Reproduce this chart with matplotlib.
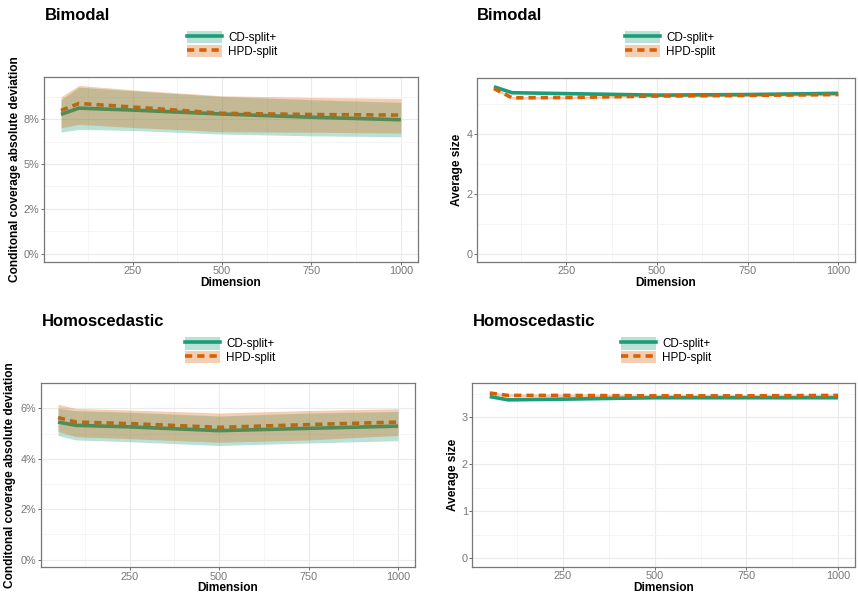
import matplotlib
matplotlib.use("Agg")
import matplotlib.pyplot as plt
from matplotlib.patches import Patch
from matplotlib.lines import Line2D
from matplotlib.legend_handler import HandlerTuple

plt.rcParams['font.family'] = ['Liberation Sans', 'DejaVu Sans']

dims = [50, 100, 250, 500, 750, 1000]
methods = ["CD-split+", "HPD-split"]
colors = {"CD-split+": "#1B9E77", "HPD-split": "#D95F02"}

# conditional coverage absolute deviation, in percent
bim_cov_cd = [7.78, 8.13, 8.02, 7.80, 7.62, 7.48]
bim_cov_cd_lo = [6.79, 6.94, 6.88, 6.68, 6.58, 6.53]
bim_cov_cd_hi = [8.60, 9.30, 9.10, 8.78, 8.60, 8.45]
bim_cov_hpd = [8.00, 8.39, 8.19, 7.84, 7.77, 7.74]
bim_cov_hpd_lo = [7.03, 7.22, 7.05, 6.81, 6.78, 6.74]
bim_cov_hpd_hi = [8.76, 9.40, 9.15, 8.82, 8.73, 8.67]

hom_cov_cd = [5.46, 5.33, 5.27, 5.12, 5.21, 5.30]
hom_cov_cd_lo = [4.93, 4.75, 4.68, 4.53, 4.63, 4.72]
hom_cov_cd_hi = [6.01, 5.91, 5.85, 5.70, 5.82, 5.88]
hom_cov_hpd = [5.64, 5.46, 5.40, 5.25, 5.36, 5.46]
hom_cov_hpd_lo = [5.09, 4.88, 4.80, 4.66, 4.75, 4.93]
hom_cov_hpd_hi = [6.17, 6.00, 5.94, 5.82, 5.92, 5.99]

# average size
bim_size_cd = [5.57, 5.37, 5.34, 5.29, 5.31, 5.35]
bim_size_cd_lo = [5.55, 5.35, 5.32, 5.27, 5.29, 5.33]
bim_size_cd_hi = [5.59, 5.39, 5.36, 5.31, 5.33, 5.37]
bim_size_hpd = [5.51, 5.20, 5.21, 5.26, 5.28, 5.31]
bim_size_hpd_lo = [5.47, 5.16, 5.17, 5.22, 5.24, 5.27]
bim_size_hpd_hi = [5.55, 5.24, 5.25, 5.30, 5.32, 5.35]

hom_size_cd = [3.445, 3.375, 3.39, 3.42, 3.42, 3.42]
hom_size_cd_lo = [3.43, 3.36, 3.375, 3.405, 3.405, 3.405]
hom_size_cd_hi = [3.46, 3.39, 3.405, 3.435, 3.435, 3.435]
hom_size_hpd = [3.52, 3.47, 3.47, 3.46, 3.46, 3.47]
hom_size_hpd_lo = [3.49, 3.44, 3.44, 3.43, 3.43, 3.44]
hom_size_hpd_hi = [3.55, 3.50, 3.50, 3.49, 3.49, 3.50]

x_ticks = [250, 500, 750, 1000]
bim_cov_ticks = [0, 2.5, 5, 7.5]
bim_cov_labels = ["0%", "2%", "5%", "8%"]
hom_cov_ticks = [0, 2, 4, 6]
hom_cov_labels = ["0%", "2%", "4%", "6%"]
bim_size_ticks = [0, 2, 4]
hom_size_ticks = [0, 1, 2, 3]

fig = plt.figure(figsize=(8.58, 5.99), dpi=100)
fig.patch.set_facecolor('white')


def panel(rect, title, title_xy, leg_xy, series, yticks, ylabels, ylabel, ylab_x):
    ax = fig.add_axes(rect)
    for name, (mid, lo, hi) in zip(methods, series):
        ls = '-' if name == "CD-split+" else (0, (2, 1.4))
        ax.plot(dims, mid, color=colors[name], lw=2.6, ls=ls, zorder=2,
                solid_capstyle='butt', dash_capstyle='butt')
    for name, (mid, lo, hi) in zip(methods, series):
        ax.fill_between(dims, lo, hi, color=colors[name], alpha=0.3, lw=0, zorder=3)
    # ggplot style limits: include 0, expand 5%
    top = max(max(s[2]) for s in series)
    ax.set_ylim(-0.05 * top, top * 1.05)
    ax.set_xlim(50 - 0.05 * 950, 1000 + 0.05 * 950)
    ax.set_xticks(x_ticks)
    ax.set_xticks([125, 375, 625, 875], minor=True)
    ax.set_yticks(yticks)
    if ylabels is not None:
        ax.set_yticklabels(ylabels)
    mids = [(a + b) / 2 for a, b in zip(yticks[:-1], yticks[1:])]
    mids.append(yticks[-1] + (yticks[1] - yticks[0]) / 2)
    ax.set_yticks(mids, minor=True)
    ax.grid(True, which='major', color='#ebebeb', lw=0.8, zorder=0)
    ax.grid(True, which='minor', color='#f4f4f4', lw=0.6, zorder=0)
    ax.set_axisbelow(True)
    ax.tick_params(which='major', length=2, color='#555555', labelcolor='#777777',
                   labelsize=7.8, pad=1.2, width=0.6)
    ax.tick_params(which='minor', length=0)
    for sp in ax.spines.values():
        sp.set_color('#777777')
        sp.set_linewidth(0.9)
    ax.set_xlabel("Dimension", fontsize=8.6, fontweight='bold', labelpad=0.5)
    ax.set_ylabel(ylabel, fontsize=8.6, fontweight='bold')
    ax.yaxis.set_label_coords(ylab_x, 0.5)
    fig.text(title_xy[0], title_xy[1], title, fontsize=12, fontweight='bold',
             va='baseline', ha='left')
    handles = []
    for name in methods:
        ls = '-' if name == "CD-split+" else (0, (2, 1.4))
        handles.append((Patch(facecolor=colors[name], alpha=0.3, lw=0),
                        Line2D([], [], color=colors[name], lw=2.6, ls=ls)))
    fig.legend(handles, methods, loc='upper center', bbox_to_anchor=leg_xy,
               frameon=False, fontsize=8.4, handlelength=3.0, handleheight=1.25,
               labelspacing=0.05, handletextpad=0.5, borderpad=0, borderaxespad=0,
               handler_map={tuple: HandlerTuple(ndivide=1, pad=0)})
    return ax


panel([0.0513, 0.5626, 0.4357, 0.3089], "Bimodal", (0.0525, 0.9666), (0.271, 0.948),
      [(bim_cov_cd, bim_cov_cd_lo, bim_cov_cd_hi),
       (bim_cov_hpd, bim_cov_hpd_lo, bim_cov_hpd_hi)],
      bim_cov_ticks, bim_cov_labels, "Conditonal coverage absolute deviation", -0.062)
panel([0.5556, 0.5626, 0.4414, 0.3076], "Bimodal", (0.5556, 0.9666), (0.7815, 0.948),
      [(bim_size_cd, bim_size_cd_lo, bim_size_cd_hi),
       (bim_size_hpd, bim_size_hpd_lo, bim_size_hpd_hi)],
      bim_size_ticks, None, "Average size", -0.037)
panel([0.0478, 0.0529, 0.4359, 0.3072], "Homoscedastic", (0.0486, 0.4563), (0.2685, 0.4369),
      [(hom_cov_cd, hom_cov_cd_lo, hom_cov_cd_hi),
       (hom_cov_hpd, hom_cov_hpd_lo, hom_cov_hpd_hi)],
      hom_cov_ticks, hom_cov_labels, "Conditonal coverage absolute deviation", -0.066)
panel([0.5505, 0.0540, 0.4465, 0.3061], "Homoscedastic", (0.5517, 0.4563), (0.7765, 0.4369),
      [(hom_size_cd, hom_size_cd_lo, hom_size_cd_hi),
       (hom_size_hpd, hom_size_hpd_lo, hom_size_hpd_hi)],
      hom_size_ticks, None, "Average size", -0.036)

fig.savefig("out.png", dpi=100)
